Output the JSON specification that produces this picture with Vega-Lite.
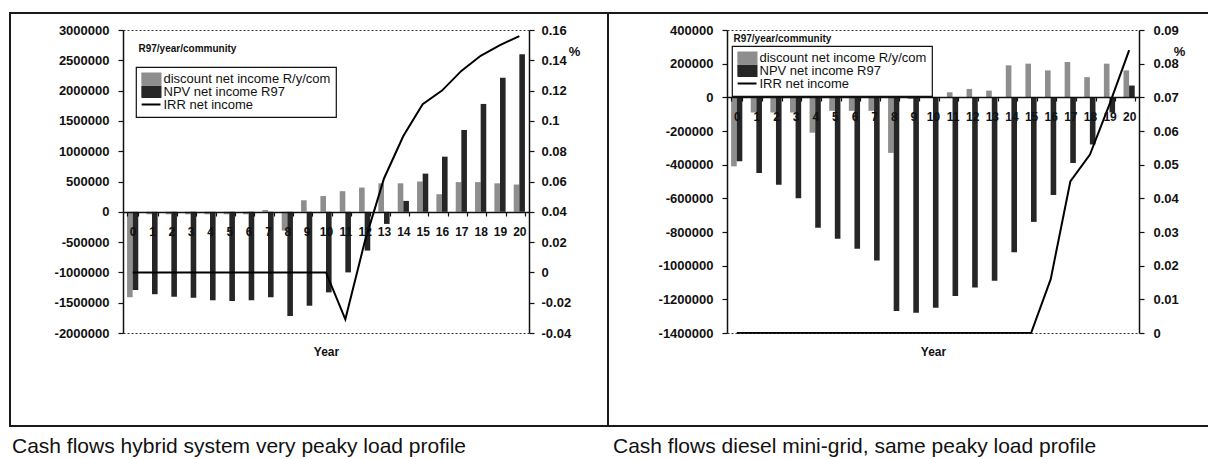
{
  "$schema": "https://vega.github.io/schema/vega-lite/v6.json",
  "padding": {"left": 9, "top": 12, "right": 0, "bottom": 0},
  "spacing": 0,
  "bounds": "flush",
  "resolve": {"scale": {"color": "independent"}, "legend": {"color": "independent"}},
  "datasets": {
    "hybrid": [
      {"year": 0, "discount": -1410000, "npv": -1290000, "irr": 0},
      {"year": 1, "discount": -40000, "npv": -1360000, "irr": 0},
      {"year": 2, "discount": -40000, "npv": -1400000, "irr": 0},
      {"year": 3, "discount": -40000, "npv": -1420000, "irr": 0},
      {"year": 4, "discount": -40000, "npv": -1460000, "irr": 0},
      {"year": 5, "discount": -40000, "npv": -1470000, "irr": 0},
      {"year": 6, "discount": -40000, "npv": -1460000, "irr": 0},
      {"year": 7, "discount": 30000, "npv": -1410000, "irr": 0},
      {"year": 8, "discount": -310000, "npv": -1720000, "irr": 0},
      {"year": 9, "discount": 190000, "npv": -1550000, "irr": 0},
      {"year": 10, "discount": 260000, "npv": -1330000, "irr": 0},
      {"year": 11, "discount": 340000, "npv": -1000000, "irr": -0.031},
      {"year": 12, "discount": 400000, "npv": -640000, "irr": 0.02},
      {"year": 13, "discount": 470000, "npv": -200000, "irr": 0.062},
      {"year": 14, "discount": 470000, "npv": 180000, "irr": 0.09},
      {"year": 15, "discount": 500000, "npv": 630000, "irr": 0.111},
      {"year": 16, "discount": 290000, "npv": 910000, "irr": 0.12},
      {"year": 17, "discount": 490000, "npv": 1350000, "irr": 0.133},
      {"year": 18, "discount": 490000, "npv": 1780000, "irr": 0.143},
      {"year": 19, "discount": 470000, "npv": 2210000, "irr": 0.15},
      {"year": 20, "discount": 450000, "npv": 2600000, "irr": 0.156}
    ],
    "diesel": [
      {"year": 0, "discount": -410000, "npv": -380000, "irr": 0},
      {"year": 1, "discount": -90000, "npv": -450000, "irr": 0},
      {"year": 2, "discount": -90000, "npv": -520000, "irr": 0},
      {"year": 3, "discount": -90000, "npv": -600000, "irr": 0},
      {"year": 4, "discount": -210000, "npv": -775000, "irr": 0},
      {"year": 5, "discount": -80000, "npv": -840000, "irr": 0},
      {"year": 6, "discount": -80000, "npv": -900000, "irr": 0},
      {"year": 7, "discount": -80000, "npv": -970000, "irr": 0},
      {"year": 8, "discount": -330000, "npv": -1270000, "irr": 0},
      {"year": 9, "discount": -10000, "npv": -1280000, "irr": 0},
      {"year": 10, "discount": 20000, "npv": -1250000, "irr": 0},
      {"year": 11, "discount": 30000, "npv": -1180000, "irr": 0},
      {"year": 12, "discount": 50000, "npv": -1130000, "irr": 0},
      {"year": 13, "discount": 40000, "npv": -1090000, "irr": 0},
      {"year": 14, "discount": 190000, "npv": -920000, "irr": 0},
      {"year": 15, "discount": 200000, "npv": -740000, "irr": 0},
      {"year": 16, "discount": 160000, "npv": -580000, "irr": 0.016},
      {"year": 17, "discount": 210000, "npv": -390000, "irr": 0.045},
      {"year": 18, "discount": 120000, "npv": -280000, "irr": 0.053},
      {"year": 19, "discount": 200000, "npv": -90000, "irr": 0.068},
      {"year": 20, "discount": 160000, "npv": 70000, "irr": 0.084}
    ]
  },
  "config": {
    "view": {"stroke": "#1a1a1a", "strokeWidth": 2},
    "font": "Liberation Sans",
    "axis": {
      "labelFont": "Liberation Sans", "labelFontWeight": "bold", "labelFontSize": 13, "labelColor": "#111",
      "domainColor": "#111", "domainWidth": 1.5, "tickColor": "#111", "tickWidth": 1.2,
      "titleFont": "Liberation Sans", "titleFontWeight": "bold", "titleColor": "#111"
    },
    "legend": {
      "labelFont": "Liberation Sans", "labelFontSize": 13, "labelColor": "#111", "labelLimit": 400
    }
  },
  "hconcat": [
    {
      "width": 598,
      "height": 413,
      "title": {"text": "Cash flows hybrid system very peaky load profile", "orient": "bottom", "anchor": "start", "frame": "group", "offset": 27, "baseline": "alphabetic", "dx": 2, "fontSize": 21, "fontWeight": "normal", "font": "Liberation Sans", "color": "#111"},
      "layer": [
        {
          "data": {"name": "hybrid"},
          "transform": [{"fold": ["discount", "npv"], "as": ["series", "value"]}],
          "mark": {"type": "bar"},
          "encoding": {
            "x": {
              "field": "year", "type": "ordinal",
              "scale": {"range": [113, 519], "paddingInner": 0.42, "paddingOuter": 0.21},
              "axis": {"orient": "bottom", "offset": -214, "title": "Year", "titleY": 134, "titleFontSize": 12, "labelAngle": 0, "labelFontSize": 12, "labelPadding": 10, "labelDx": 2, "tickBand": "extent", "tickSize": 4, "zindex": 1}
            },
            "xOffset": {"field": "series", "scale": {"domain": ["discount", "npv"]}},
            "y": {
              "field": "value", "type": "quantitative",
              "scale": {"domain": [-2000000, 3000000], "range": [320, 17], "nice": false},
              "axis": {
                "orient": "left", "offset": -113,
                "values": [-2000000, -1500000, -1000000, -500000, 0, 500000, 1000000, 1500000, 2000000, 2500000, 3000000],
                "labelExpr": "'' + datum.value",
                "title": "R97/year/community", "titleAngle": 0, "titleAlign": "left", "titleBaseline": "middle", "titleX": 15, "titleY": 35, "titleFontSize": 10,
                "tickSize": 5, "labelPadding": 9,
                "grid": true, "gridWidth": 1.2, "gridDash": [2, 2],
                "gridColor": {"condition": {"test": "datum.value == 3000000 || datum.value == -2000000", "value": "#333333"}, "value": "transparent"},
                "zindex": 1
              }
            },
            "color": {
              "field": "series", "type": "nominal",
              "scale": {"domain": ["discount", "npv", "irr"], "range": ["#8e8e8e", "#262626", "#000000"]},
              "legend": {
                "orient": "none", "legendX": 126, "legendY": 54, "title": null, "labelOffset": 8,
                "padding": 5.5, "rowPadding": -1, "clipHeight": 12, "symbolSize": 144,
                "labelExpr": "datum.label === 'discount' ? 'discount net income R/y/com' : datum.label === 'npv' ? 'NPV net income R97' : 'IRR net income'",
                "encode": {
                  "legend": {"update": {"stroke": {"value": "#111111"}, "strokeWidth": {"value": 1.2}, "fill": {"value": "#ffffff"}}},
                  "symbols": {"update": {
                    "shape": {"signal": "datum.value === 'irr' ? 'M-1.2,0H2' : 'M-1.2,-0.9H2V0.9H-1.2Z'"},
                    "fill": {"signal": "datum.value === 'discount' ? '#8e8e8e' : datum.value === 'npv' ? '#262626' : 'transparent'"},
                    "stroke": {"signal": "datum.value === 'irr' ? '#000000' : 'transparent'"},
                    "strokeWidth": {"value": 2},
                    "opacity": {"value": 1}
                  }}
                }
              }
            }
          }
        },
        {
          "data": {"name": "hybrid"},
          "mark": {"type": "line", "strokeWidth": 2},
          "encoding": {
            "x": {"field": "year", "type": "ordinal"},
            "y": {
              "field": "irr", "type": "quantitative",
              "scale": {"domain": [-0.04, 0.16], "range": [320, 17], "nice": false},
              "axis": {
                "orient": "right", "offset": -79,
                "values": [-0.04, -0.02, 0, 0.02, 0.04, 0.06, 0.08, 0.1, 0.12, 0.14, 0.16],
                "labelExpr": "'' + datum.value",
                "title": "%", "titleAngle": 0, "titleAlign": "center", "titleBaseline": "middle", "titleX": 45, "titleY": 38, "titleFontSize": 13,
                "tickSize": 5, "labelPadding": 7, "grid": false
              }
            },
            "color": {"datum": "irr"}
          }
        }
      ],
      "resolve": {"scale": {"y": "independent"}}
    },
    {
      "width": 605,
      "height": 413,
      "title": {"text": "Cash flows diesel mini-grid, same peaky load profile", "orient": "bottom", "anchor": "start", "frame": "group", "offset": 27, "baseline": "alphabetic", "dx": 5, "fontSize": 21, "fontWeight": "normal", "font": "Liberation Sans", "color": "#111"},
      "layer": [
        {
          "data": {"name": "diesel"},
          "transform": [{"fold": ["discount", "npv"], "as": ["series", "value"]}],
          "mark": {"type": "bar"},
          "encoding": {
            "x": {
              "field": "year", "type": "ordinal",
              "scale": {"range": [119, 531], "paddingInner": 0.42, "paddingOuter": 0.21},
              "axis": {"orient": "bottom", "offset": -329, "title": "Year", "titleY": 249, "titleFontSize": 12, "labelAngle": 0, "labelFontSize": 12, "labelPadding": 10, "labelDx": 2, "tickBand": "extent", "tickSize": 4, "zindex": 1}
            },
            "xOffset": {"field": "series", "scale": {"domain": ["discount", "npv"]}},
            "y": {
              "field": "value", "type": "quantitative",
              "scale": {"domain": [-1400000, 400000], "range": [320, 17], "nice": false},
              "axis": {
                "orient": "left", "offset": -119,
                "values": [-1400000, -1200000, -1000000, -800000, -600000, -400000, -200000, 0, 200000, 400000],
                "labelExpr": "'' + datum.value",
                "title": "R97/year/community", "titleAngle": 0, "titleAlign": "left", "titleBaseline": "middle", "titleX": 6, "titleY": 25, "titleFontSize": 10,
                "tickSize": 5, "labelPadding": 9,
                "grid": true, "gridWidth": 1.2, "gridDash": [2, 2],
                "gridColor": {"condition": {"test": "datum.value == 400000 || datum.value == -1400000", "value": "#333333"}, "value": "transparent"},
                "zindex": 1
              }
            },
            "color": {
              "field": "series", "type": "nominal",
              "scale": {"domain": ["discount", "npv", "irr"], "range": ["#8e8e8e", "#262626", "#000000"]},
              "legend": {
                "orient": "none", "legendX": 124, "legendY": 33, "title": null, "labelOffset": 8,
                "padding": 5.5, "rowPadding": -1, "clipHeight": 12, "symbolSize": 144,
                "labelExpr": "datum.label === 'discount' ? 'discount net income R/y/com' : datum.label === 'npv' ? 'NPV net income R97' : 'IRR net income'",
                "encode": {
                  "legend": {"update": {"stroke": {"value": "#111111"}, "strokeWidth": {"value": 1.2}, "fill": {"value": "#ffffff"}}},
                  "symbols": {"update": {
                    "shape": {"signal": "datum.value === 'irr' ? 'M-1.2,0H2' : 'M-1.2,-0.9H2V0.9H-1.2Z'"},
                    "fill": {"signal": "datum.value === 'discount' ? '#8e8e8e' : datum.value === 'npv' ? '#262626' : 'transparent'"},
                    "stroke": {"signal": "datum.value === 'irr' ? '#000000' : 'transparent'"},
                    "strokeWidth": {"value": 2},
                    "opacity": {"value": 1}
                  }}
                }
              }
            }
          }
        },
        {
          "data": {"name": "diesel"},
          "mark": {"type": "line", "strokeWidth": 2},
          "encoding": {
            "x": {"field": "year", "type": "ordinal"},
            "y": {
              "field": "irr", "type": "quantitative",
              "scale": {"domain": [0, 0.09], "range": [320, 17], "nice": false},
              "axis": {
                "orient": "right", "offset": -74,
                "values": [0, 0.01, 0.02, 0.03, 0.04, 0.05, 0.06, 0.07, 0.08, 0.09],
                "labelExpr": "'' + datum.value",
                "title": "%", "titleAngle": 0, "titleAlign": "center", "titleBaseline": "middle", "titleX": 40, "titleY": 38, "titleFontSize": 13,
                "tickSize": 5, "labelPadding": 9, "grid": false
              }
            },
            "color": {"datum": "irr"}
          }
        }
      ],
      "resolve": {"scale": {"y": "independent"}}
    }
  ]
}
